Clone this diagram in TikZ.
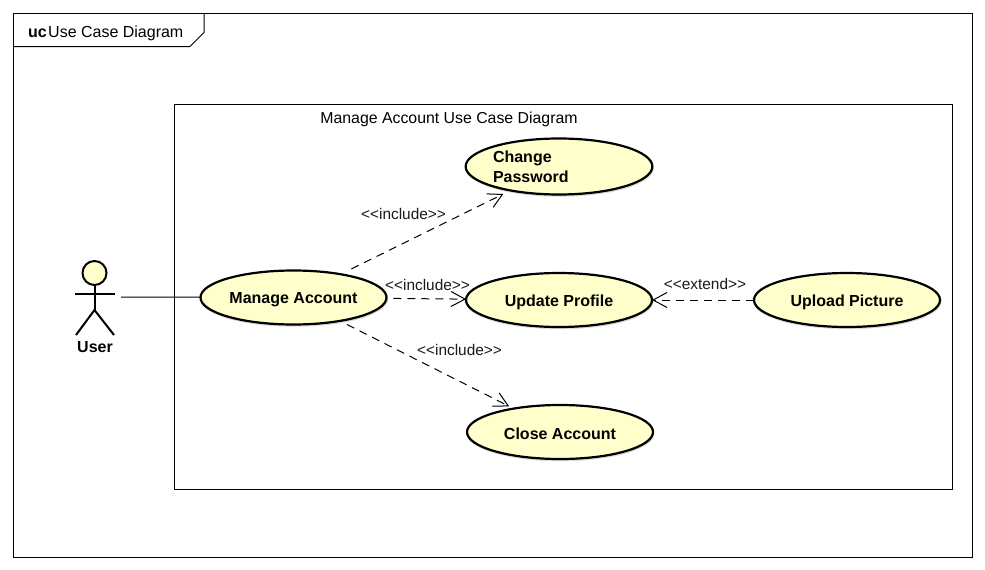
\documentclass[tikz,border=0pt]{standalone}
\usepackage{fontspec}
\setmainfont{Liberation Sans}
\usetikzlibrary{arrows.meta,shapes.geometric}
\definecolor{ucfill}{HTML}{FFFFCC}
\newcommand{\uctext}[1]{\raisebox{-2pt}[\height][\depth]{#1}}
\tikzset{
  usecase/.style={ellipse,draw=black,line width=2.2pt,fill=ucfill,minimum width=186pt,minimum height=54pt,inner sep=0pt,outer sep=0pt,font=\fontsize{16}{20}\selectfont\bfseries,text=black,
    preaction={draw=black!15,line width=2pt,transform canvas={shift={(0.6pt,-1.2pt)}}}},
  deplabel/.style={inner sep=0pt,font=\fontsize{15.4}{18}\selectfont,text=black!90},
  dep/.style={line width=1pt,dash pattern=on 8pt off 6pt,-{Straight Barb[length=14pt,width=15pt,line width=1pt]}},
  frameline/.style={draw=black,line width=1pt},
  actorline/.style={draw=black,line width=2pt}
}
\begin{document}
\begin{tikzpicture}[x=1pt,y=-1pt]
\useasboundingbox (0,0) rectangle (985,570);
\fill[white] (0,0) rectangle (985,570);
% frame
\draw[frameline] (13.5,13.5) rectangle (972.5,557.5);
\draw[frameline] (13.5,46.5) -- (190,46.5) -- (204,32.5) -- (204,13.5);
\node[anchor=base west,inner sep=0pt,font=\fontsize{16}{20}\selectfont\bfseries] (ucmark) at (28,37) {uc};
\node[anchor=base west,inner sep=0pt,font=\fontsize{16}{20}\selectfont] (frametitle) at (48,37) {Use Case Diagram};
% system boundary
\draw[frameline] (174.5,104.5) rectangle (952.5,489.5);
\node[anchor=base,inner sep=0pt,font=\fontsize{15.85}{20}\selectfont] (systitle) at (449,123) {Manage Account Use Case Diagram};
% actor
\node[circle,actorline,fill=ucfill,minimum size=24pt,inner sep=0pt,outer sep=0pt] (head) at (94.5,273) {};
\coordinate (hip) at (94.5,310);
\coordinate (armL) at (75,294);
\coordinate (armR) at (115,294);
\coordinate (legL) at (76,335);
\coordinate (legR) at (114,335);
\draw[actorline] (head.south) -- (hip);
\draw[actorline] (armL) -- (armR);
\draw[actorline] (legL) -- (hip) -- (legR);
\node[anchor=base,inner sep=0pt,font=\fontsize{16}{20}\selectfont\bfseries] (user) at (95,352) {User};
\coordinate (userhand) at (121,297);
% use cases
\node[usecase] (ma) at (293.5,297.5) {\uctext{Manage Account}};
\node[usecase,minimum height=56pt] (cp) at (559,166.5) {\uctext{\makebox[132pt][l]{\begin{tabular}{@{}l@{}}Change\\[-0.5pt]Password\end{tabular}}}};
\node[usecase] (up) at (559,300) {\uctext{Update Profile}};
\node[usecase] (pic) at (847,300) {\uctext{Upload Picture}};
\node[usecase] (ca) at (560,432) {\uctext{Close Account}};
% connectors
\draw[line width=1pt] (userhand) -- (ma);
\draw[dep,shorten <=12pt,shorten >=8pt] (ma) -- (cp);
\draw[dep,shorten <=7pt] (ma) -- (up);
\draw[dep,shorten <=8pt,shorten >=5pt] (ma) -- (ca);
\draw[dep] (pic) -- (up);
% labels
\node[deplabel] (l1) at (403.5,214) {<{}<include>{}>};
\node[deplabel] (l2) at (427.5,285) {<{}<include>{}>};
\node[deplabel] (l3) at (459.5,350) {<{}<include>{}>};
\node[deplabel] (l4) at (705,284) {<{}<extend>{}>};
\end{tikzpicture}
\end{document}
